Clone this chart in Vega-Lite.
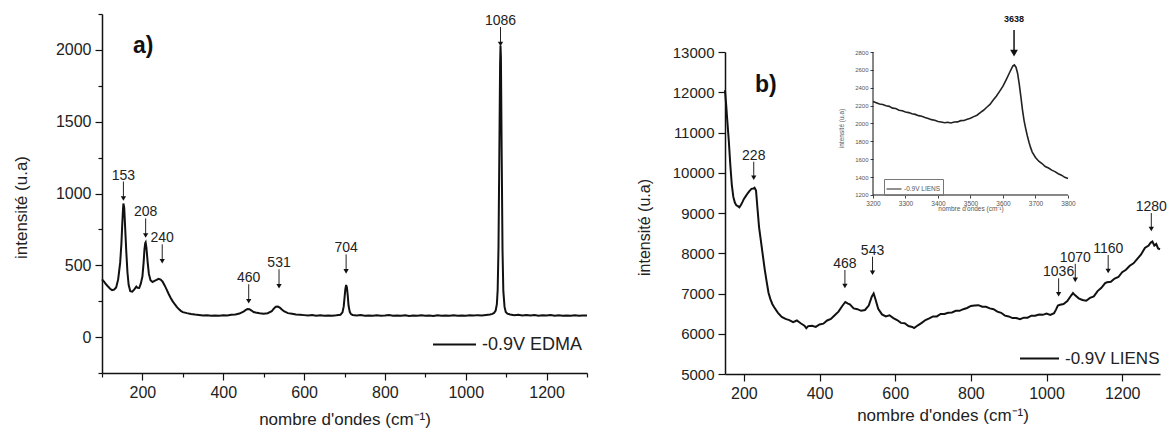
{
  "$schema": "https://vega.github.io/schema/vega-lite/v6.json",
  "padding": {"left": 12, "top": 6, "right": 5, "bottom": 5},
  "background": "white",
  "config": {
    "view": {"stroke": null},
    "font": "Liberation Sans",
    "axis": {"grid": false, "domainColor": "#111", "tickColor": "#111", "labelColor": "#222", "titleColor": "#222", "domainWidth": 1.5, "tickWidth": 1.2, "labelFont": "Liberation Sans", "titleFont": "Liberation Sans", "titleFontWeight": "normal", "format": "d", "labelOverlap": false, "labelFlush": false},
    "text": {"font": "Liberation Sans"}
  },
  "datasets": {
    "a": [
      {"wn":100,"i":402},{"wn":105,"i":386},{"wn":110,"i":368},{"wn":115,"i":352},{"wn":120,"i":337},{"wn":125,"i":327},{"wn":130,"i":331},{"wn":135,"i":346},{"wn":140,"i":402},{"wn":145,"i":520},{"wn":148,"i":650},{"wn":150,"i":780},{"wn":152,"i":890},{"wn":153,"i":930},{"wn":155,"i":900},{"wn":157,"i":780},{"wn":160,"i":600},{"wn":163,"i":450},{"wn":166,"i":362},{"wn":170,"i":320},{"wn":175,"i":316},{"wn":180,"i":332},{"wn":185,"i":352},{"wn":188,"i":343},{"wn":192,"i":342},{"wn":196,"i":372},{"wn":200,"i":422},{"wn":203,"i":520},{"wn":205,"i":610},{"wn":207,"i":655},{"wn":208,"i":660},{"wn":210,"i":620},{"wn":213,"i":520},{"wn":216,"i":440},{"wn":220,"i":396},{"wn":225,"i":384},{"wn":230,"i":391},{"wn":235,"i":398},{"wn":240,"i":406},{"wn":245,"i":401},{"wn":250,"i":386},{"wn":255,"i":360},{"wn":260,"i":331},{"wn":265,"i":300},{"wn":270,"i":272},{"wn":275,"i":249},{"wn":280,"i":229},{"wn":285,"i":210},{"wn":290,"i":195},{"wn":295,"i":183},{"wn":300,"i":174},{"wn":310,"i":167},{"wn":320,"i":161},{"wn":330,"i":157},{"wn":340,"i":154},{"wn":350,"i":150},{"wn":360,"i":152},{"wn":370,"i":148},{"wn":380,"i":151},{"wn":390,"i":149},{"wn":400,"i":152},{"wn":410,"i":150},{"wn":420,"i":155},{"wn":430,"i":158},{"wn":440,"i":164},{"wn":450,"i":177},{"wn":455,"i":188},{"wn":460,"i":195},{"wn":465,"i":194},{"wn":470,"i":185},{"wn":475,"i":175},{"wn":480,"i":171},{"wn":490,"i":166},{"wn":500,"i":163},{"wn":510,"i":166},{"wn":520,"i":180},{"wn":525,"i":198},{"wn":530,"i":212},{"wn":535,"i":213},{"wn":540,"i":205},{"wn":545,"i":192},{"wn":550,"i":180},{"wn":560,"i":167},{"wn":570,"i":163},{"wn":580,"i":157},{"wn":590,"i":156},{"wn":600,"i":153},{"wn":610,"i":150},{"wn":620,"i":153},{"wn":630,"i":149},{"wn":640,"i":152},{"wn":650,"i":148},{"wn":660,"i":151},{"wn":670,"i":149},{"wn":680,"i":152},{"wn":690,"i":156},{"wn":695,"i":172},{"wn":698,"i":212},{"wn":700,"i":272},{"wn":702,"i":332},{"wn":704,"i":363},{"wn":706,"i":345},{"wn":708,"i":290},{"wn":710,"i":220},{"wn":713,"i":176},{"wn":716,"i":160},{"wn":720,"i":154},{"wn":730,"i":150},{"wn":740,"i":153},{"wn":750,"i":148},{"wn":760,"i":151},{"wn":770,"i":149},{"wn":780,"i":152},{"wn":790,"i":148},{"wn":800,"i":150},{"wn":810,"i":153},{"wn":820,"i":148},{"wn":830,"i":151},{"wn":840,"i":149},{"wn":850,"i":152},{"wn":860,"i":147},{"wn":870,"i":151},{"wn":880,"i":149},{"wn":890,"i":152},{"wn":900,"i":148},{"wn":910,"i":151},{"wn":920,"i":147},{"wn":930,"i":152},{"wn":940,"i":149},{"wn":950,"i":151},{"wn":960,"i":148},{"wn":970,"i":152},{"wn":980,"i":149},{"wn":990,"i":151},{"wn":1000,"i":148},{"wn":1010,"i":152},{"wn":1020,"i":150},{"wn":1030,"i":153},{"wn":1040,"i":151},{"wn":1050,"i":154},{"wn":1060,"i":157},{"wn":1066,"i":162},{"wn":1070,"i":168},{"wn":1074,"i":185},{"wn":1077,"i":230},{"wn":1079,"i":330},{"wn":1081,"i":620},{"wn":1083,"i":1250},{"wn":1085,"i":1900},{"wn":1086,"i":2030},{"wn":1087,"i":1950},{"wn":1089,"i":1250},{"wn":1091,"i":600},{"wn":1093,"i":320},{"wn":1096,"i":210},{"wn":1099,"i":175},{"wn":1103,"i":163},{"wn":1110,"i":157},{"wn":1120,"i":153},{"wn":1130,"i":156},{"wn":1140,"i":151},{"wn":1150,"i":154},{"wn":1160,"i":150},{"wn":1170,"i":153},{"wn":1180,"i":149},{"wn":1190,"i":152},{"wn":1200,"i":150},{"wn":1210,"i":153},{"wn":1220,"i":148},{"wn":1230,"i":152},{"wn":1240,"i":149},{"wn":1250,"i":151},{"wn":1260,"i":148},{"wn":1270,"i":152},{"wn":1280,"i":149},{"wn":1290,"i":151},{"wn":1300,"i":150}
    ],
    "b": [
      {"wn":150,"i":12050},{"wn":153,"i":11700},{"wn":156,"i":11300},{"wn":160,"i":10800},{"wn":164,"i":10200},{"wn":168,"i":9700},{"wn":172,"i":9400},{"wn":176,"i":9260},{"wn":180,"i":9190},{"wn":184,"i":9170},{"wn":188,"i":9140},{"wn":192,"i":9200},{"wn":196,"i":9270},{"wn":200,"i":9350},{"wn":205,"i":9420},{"wn":210,"i":9490},{"wn":215,"i":9550},{"wn":220,"i":9600},{"wn":225,"i":9610},{"wn":228,"i":9630},{"wn":232,"i":9560},{"wn":236,"i":9100},{"wn":240,"i":8650},{"wn":245,"i":8300},{"wn":250,"i":7950},{"wn":255,"i":7600},{"wn":260,"i":7300},{"wn":265,"i":7020},{"wn":270,"i":6860},{"wn":275,"i":6740},{"wn":280,"i":6660},{"wn":290,"i":6520},{"wn":300,"i":6420},{"wn":310,"i":6370},{"wn":320,"i":6340},{"wn":330,"i":6290},{"wn":340,"i":6330},{"wn":350,"i":6260},{"wn":360,"i":6200},{"wn":365,"i":6140},{"wn":370,"i":6190},{"wn":380,"i":6200},{"wn":390,"i":6170},{"wn":400,"i":6230},{"wn":410,"i":6250},{"wn":420,"i":6330},{"wn":430,"i":6370},{"wn":440,"i":6460},{"wn":450,"i":6550},{"wn":460,"i":6690},{"wn":468,"i":6790},{"wn":475,"i":6750},{"wn":480,"i":6730},{"wn":490,"i":6630},{"wn":500,"i":6610},{"wn":510,"i":6570},{"wn":520,"i":6590},{"wn":530,"i":6700},{"wn":538,"i":6920},{"wn":543,"i":7000},{"wn":548,"i":6850},{"wn":555,"i":6620},{"wn":565,"i":6480},{"wn":575,"i":6430},{"wn":585,"i":6460},{"wn":595,"i":6390},{"wn":605,"i":6340},{"wn":615,"i":6270},{"wn":625,"i":6260},{"wn":635,"i":6190},{"wn":645,"i":6170},{"wn":650,"i":6140},{"wn":660,"i":6210},{"wn":670,"i":6270},{"wn":680,"i":6340},{"wn":690,"i":6380},{"wn":700,"i":6430},{"wn":710,"i":6430},{"wn":720,"i":6490},{"wn":730,"i":6490},{"wn":740,"i":6520},{"wn":750,"i":6530},{"wn":760,"i":6570},{"wn":770,"i":6570},{"wn":780,"i":6610},{"wn":790,"i":6640},{"wn":800,"i":6690},{"wn":810,"i":6700},{"wn":820,"i":6710},{"wn":830,"i":6670},{"wn":840,"i":6670},{"wn":850,"i":6630},{"wn":860,"i":6610},{"wn":870,"i":6550},{"wn":880,"i":6520},{"wn":890,"i":6450},{"wn":900,"i":6430},{"wn":910,"i":6390},{"wn":920,"i":6390},{"wn":930,"i":6360},{"wn":940,"i":6400},{"wn":950,"i":6400},{"wn":960,"i":6450},{"wn":970,"i":6450},{"wn":980,"i":6480},{"wn":990,"i":6470},{"wn":1000,"i":6500},{"wn":1010,"i":6470},{"wn":1020,"i":6510},{"wn":1025,"i":6600},{"wn":1030,"i":6700},{"wn":1036,"i":6720},{"wn":1045,"i":6740},{"wn":1055,"i":6810},{"wn":1065,"i":6950},{"wn":1070,"i":7010},{"wn":1075,"i":6960},{"wn":1085,"i":6880},{"wn":1095,"i":6840},{"wn":1105,"i":6820},{"wn":1115,"i":6890},{"wn":1125,"i":6930},{"wn":1135,"i":7060},{"wn":1145,"i":7140},{"wn":1155,"i":7260},{"wn":1160,"i":7280},{"wn":1170,"i":7290},{"wn":1180,"i":7370},{"wn":1190,"i":7410},{"wn":1200,"i":7530},{"wn":1210,"i":7590},{"wn":1220,"i":7690},{"wn":1230,"i":7750},{"wn":1240,"i":7860},{"wn":1250,"i":7970},{"wn":1260,"i":8130},{"wn":1270,"i":8190},{"wn":1275,"i":8260},{"wn":1280,"i":8290},{"wn":1285,"i":8190},{"wn":1290,"i":8230},{"wn":1295,"i":8120},{"wn":1300,"i":8100}
    ],
    "c": [
      {"wn":3200,"i":2245},{"wn":3210,"i":2232},{"wn":3220,"i":2218},{"wn":3230,"i":2212},{"wn":3240,"i":2198},{"wn":3250,"i":2192},{"wn":3260,"i":2172},{"wn":3270,"i":2167},{"wn":3280,"i":2148},{"wn":3290,"i":2142},{"wn":3300,"i":2128},{"wn":3310,"i":2122},{"wn":3320,"i":2108},{"wn":3330,"i":2102},{"wn":3340,"i":2088},{"wn":3350,"i":2082},{"wn":3360,"i":2068},{"wn":3370,"i":2057},{"wn":3380,"i":2043},{"wn":3390,"i":2037},{"wn":3400,"i":2023},{"wn":3410,"i":2017},{"wn":3420,"i":2008},{"wn":3430,"i":2014},{"wn":3440,"i":2006},{"wn":3450,"i":2017},{"wn":3460,"i":2018},{"wn":3470,"i":2032},{"wn":3480,"i":2033},{"wn":3490,"i":2047},{"wn":3500,"i":2058},{"wn":3510,"i":2077},{"wn":3520,"i":2093},{"wn":3530,"i":2122},{"wn":3540,"i":2148},{"wn":3550,"i":2182},{"wn":3560,"i":2213},{"wn":3570,"i":2262},{"wn":3580,"i":2308},{"wn":3590,"i":2362},{"wn":3600,"i":2418},{"wn":3610,"i":2492},{"wn":3620,"i":2568},{"wn":3630,"i":2642},{"wn":3635,"i":2655},{"wn":3640,"i":2630},{"wn":3645,"i":2560},{"wn":3650,"i":2440},{"wn":3655,"i":2300},{"wn":3660,"i":2150},{"wn":3665,"i":2030},{"wn":3670,"i":1940},{"wn":3675,"i":1860},{"wn":3680,"i":1790},{"wn":3685,"i":1730},{"wn":3690,"i":1680},{"wn":3700,"i":1620},{"wn":3710,"i":1578},{"wn":3720,"i":1552},{"wn":3730,"i":1518},{"wn":3740,"i":1502},{"wn":3750,"i":1478},{"wn":3760,"i":1462},{"wn":3770,"i":1438},{"wn":3780,"i":1422},{"wn":3790,"i":1398},{"wn":3800,"i":1385}
    ],
    "annA": [
      {"wn":153,"v":937,"label":"153"},{"wn":208,"v":680,"label":"208"},{"wn":249,"v":500,"label":"240"},{"wn":463,"v":222,"label":"460"},{"wn":538,"v":326,"label":"531"},{"wn":704,"v":430,"label":"704"},{"wn":1086,"v":2013,"label":"1086"}
    ],
    "annB": [
      {"wn":226,"v":9776,"label":"228"},{"wn":467,"v":7087,"label":"468"},{"wn":540,"v":7417,"label":"543"},{"wn":1032,"v":6880,"label":"1036"},{"wn":1076,"v":7240,"label":"1070"},{"wn":1163,"v":7459,"label":"1160"},{"wn":1277,"v":8502,"label":"1280"}
    ],
    "annC": [
      {"wn":3634,"v":2732,"label":"3638"}
    ],
    "frameC": [
      {"wn":3200,"wn2":3800,"i":1200,"i2":2800}
    ]
  },
  "bounds": "flush",
  "spacing": 138,
  "resolve": {"scale": {"color": "independent"}, "legend": {"color": "independent"}},
  "hconcat": [
    {
      "width": 485,
      "height": 359,
      "resolve": {"axis": {"y": "independent"}},
      "layer": [
        {
          "data": {"name": "a"},
          "mark": {"type": "line", "strokeWidth": 2},
          "encoding": {
            "x": {"field": "wn", "type": "quantitative", "scale": {"domain": [100, 1300], "nice": false, "zero": false},
              "axis": {"values": [100,200,300,400,500,600,700,800,900,1000,1100,1200,1300], "labelExpr": "datum.value % 200 == 0 ? datum.label : ''", "tickSize": {"condition": {"test": "datum.value % 200 == 0", "value": 7}, "value": 4}, "labelFontSize": 16, "labelPadding": 4, "title": "nombre d'ondes (cm⁻¹)", "titleFontSize": 17, "titleY": 46, "titleBaseline": "middle"}},
            "y": {"field": "i", "type": "quantitative", "scale": {"domain": [-250, 2250], "nice": false, "zero": false},
              "axis": {"orient": "left", "values": [-250,0,250,500,750,1000,1250,1500,1750,2000,2250], "labelExpr": "datum.value % 500 == 0 ? datum.label : ''", "tickSize": {"condition": {"test": "datum.value % 500 == 0", "value": 7}, "value": 4}, "labelFontSize": 16, "labelPadding": 4, "title": "intensité (u.a)", "titleFontSize": 17, "titleX": -81, "titleY": 193, "titleBaseline": "middle", "titleAngle": 270}},
            "color": {"datum": "-0.9V EDMA", "type": "nominal", "scale": {"range": ["#111"]},
              "legend": {"orient": "none", "legendX": 330, "legendY": 308, "title": null, "symbolType": "stroke", "symbolSize": 1849, "symbolStrokeWidth": 2, "labelFontSize": 18, "labelOffset": 5, "padding": 0, "labelColor": "#222", "labelFont": "Liberation Sans"}}
          }
        },
        {
          "data": {"name": "annA"},
          "mark": {"type": "rule", "color": "#222", "strokeWidth": 1, "yOffset": -21, "y2Offset": -5},
          "encoding": {"x": {"field": "wn", "type": "quantitative"}, "y": {"field": "v", "type": "quantitative", "axis": null}, "y2": {"field": "v"}}
        },
        {
          "data": {"name": "annA"},
          "mark": {"type": "point", "shape": "triangle-down", "filled": true, "color": "#111", "size": 28, "opacity": 1, "yOffset": -4},
          "encoding": {"x": {"field": "wn", "type": "quantitative"}, "y": {"field": "v", "type": "quantitative", "axis": null}}
        },
        {
          "data": {"name": "annA"},
          "mark": {"type": "text", "fontSize": 14, "color": "#222", "baseline": "middle", "yOffset": -27},
          "encoding": {"x": {"field": "wn", "type": "quantitative"}, "y": {"field": "v", "type": "quantitative", "axis": null}, "text": {"field": "label"}}
        },
        {
          "data": {"values": [{"wn": 202, "v": 2024, "t": "a)"}]},
          "mark": {"type": "text", "fontSize": 23, "fontWeight": "bold", "color": "#111", "baseline": "middle"},
          "encoding": {"x": {"field": "wn", "type": "quantitative"}, "y": {"field": "v", "type": "quantitative", "axis": null}, "text": {"field": "t"}}
        }
      ]
    },
    {
      "bounds": "flush",
      "spacing": 37,
      "resolve": {"scale": {"color": "independent"}, "legend": {"color": "independent"}},
      "vconcat": [
        {"data": {"values": []}, "mark": "point", "width": 10, "height": 1},
        {
          "width": 435,
          "height": 322,
          "resolve": {"scale": {"x": "independent", "y": "independent", "color": "independent"}, "axis": {"x": "independent", "y": "independent"}, "legend": {"color": "independent"}},
          "layer": [
            {
              "layer": [
                {
                  "data": {"name": "b"},
                  "mark": {"type": "line", "strokeWidth": 2},
                  "encoding": {
                    "x": {"field": "wn", "type": "quantitative", "scale": {"domain": [150, 1300], "nice": false, "zero": false},
                      "axis": {"orient": "bottom", "values": [200,300,400,500,600,700,800,900,1000,1100,1200,1300], "labelExpr": "datum.value % 200 == 0 ? datum.label : ''", "tickSize": {"condition": {"test": "datum.value % 200 == 0", "value": 7}, "value": 4}, "labelFontSize": 16, "labelPadding": 4, "title": "nombre d'ondes (cm⁻¹)", "titleFontSize": 17, "titleY": 41, "titleBaseline": "middle"}},
                    "y": {"field": "i", "type": "quantitative", "scale": {"domain": [5000, 13000], "nice": false, "zero": false},
                      "axis": {"orient": "left", "values": [5000,5500,6000,6500,7000,7500,8000,8500,9000,9500,10000,10500,11000,11500,12000,12500,13000], "labelExpr": "datum.value % 1000 == 0 ? datum.label : ''", "tickSize": {"condition": {"test": "datum.value % 1000 == 0", "value": 7}, "value": 4}, "labelFontSize": 15, "labelPadding": 4, "title": "intensité (u.a)", "titleFontSize": 16, "titleX": -81, "titleY": 175, "titleBaseline": "middle", "titleAngle": 270}},
                    "color": {"datum": "-0.9V LIENS", "type": "nominal", "scale": {"range": ["#111"]},
                      "legend": {"orient": "none", "legendX": 294, "legendY": 286, "title": null, "symbolType": "stroke", "symbolSize": 1521, "symbolStrokeWidth": 2, "labelFontSize": 17, "labelOffset": 5, "padding": 0, "labelColor": "#222", "labelFont": "Liberation Sans"}}
                  }
                },
                {
                  "data": {"name": "annB"},
                  "mark": {"type": "rule", "color": "#222", "strokeWidth": 1, "yOffset": -20, "y2Offset": -5},
                  "encoding": {"x": {"field": "wn", "type": "quantitative"}, "y": {"field": "v", "type": "quantitative"}, "y2": {"field": "v"}}
                },
                {
                  "data": {"name": "annB"},
                  "mark": {"type": "point", "shape": "triangle-down", "filled": true, "color": "#111", "size": 28, "opacity": 1, "yOffset": -4},
                  "encoding": {"x": {"field": "wn", "type": "quantitative"}, "y": {"field": "v", "type": "quantitative"}}
                },
                {
                  "data": {"name": "annB"},
                  "mark": {"type": "text", "fontSize": 14, "color": "#222", "baseline": "middle", "yOffset": -26},
                  "encoding": {"x": {"field": "wn", "type": "quantitative"}, "y": {"field": "v", "type": "quantitative"}, "text": {"field": "label"}}
                },
                {
                  "data": {"values": [{"wn": 258, "v": 12179, "t": "b)"}]},
                  "mark": {"type": "text", "fontSize": 23, "fontWeight": "bold", "color": "#111", "baseline": "middle"},
                  "encoding": {"x": {"field": "wn", "type": "quantitative"}, "y": {"field": "v", "type": "quantitative"}, "text": {"field": "t"}}
                }
              ]
            },
            {
              "layer": [
                {
                  "data": {"name": "c"},
                  "mark": {"type": "line", "strokeWidth": 1.6},
                  "encoding": {
                    "x": {"field": "wn", "type": "quantitative", "scale": {"domain": [2744.6, 4083.1], "nice": false, "zero": false},
                      "axis": {"orient": "bottom", "offset": -179, "domain": false, "values": [3200,3250,3300,3350,3400,3450,3500,3550,3600,3650,3700,3750,3800], "labelExpr": "datum.value % 100 == 0 ? datum.label : ''", "tickSize": {"condition": {"test": "datum.value % 100 == 0", "value": 3}, "value": 2}, "tickWidth": 0.8, "labelFontSize": 6.5, "labelPadding": 2, "labelColor": "#555", "title": "nombre d'ondes (cm⁻¹)", "titleFontSize": 6.5, "titleColor": "#555", "titleX": 245.5, "titleY": 13, "titleBaseline": "middle"}},
                    "y": {"field": "i", "type": "quantitative", "scale": {"domain": [-802.8, 2800], "nice": false, "zero": false},
                      "axis": {"orient": "left", "offset": -148, "domain": false, "values": [1200,1300,1400,1500,1600,1700,1800,1900,2000,2100,2200,2300,2400,2500,2600,2700,2800], "labelExpr": "datum.value % 200 == 0 ? datum.label : ''", "tickSize": {"condition": {"test": "datum.value % 200 == 0", "value": 3}, "value": 2}, "tickWidth": 0.8, "labelFontSize": 6, "labelPadding": 2, "labelColor": "#555", "title": "intensité (u.a)", "titleFontSize": 6.5, "titleColor": "#555", "titleX": -32, "titleY": 76, "titleBaseline": "middle", "titleAngle": 270}},
                    "color": {"datum": "-0.9V LIENS", "type": "nominal", "scale": {"range": ["#222"]},
                      "legend": {"orient": "none", "legendX": 159, "legendY": 127, "title": null, "symbolType": "stroke", "symbolSize": 225, "symbolStrokeWidth": 1, "labelFontSize": 6.5, "labelOffset": 2, "padding": 2, "strokeColor": "#777", "labelColor": "#555", "labelFont": "Liberation Sans"}}
                  }
                },
                {
                  "data": {"name": "frameC"},
                  "mark": {"type": "rule", "color": "#111", "strokeWidth": 1},
                  "encoding": {"x": {"field": "wn", "type": "quantitative"}, "y": {"field": "i", "type": "quantitative"}, "y2": {"field": "i2"}}
                },
                {
                  "data": {"name": "frameC"},
                  "mark": {"type": "rule", "color": "#111", "strokeWidth": 1},
                  "encoding": {"x": {"field": "wn", "type": "quantitative"}, "x2": {"field": "wn2"}, "y": {"field": "i", "type": "quantitative"}}
                },
                {
                  "data": {"name": "annC"},
                  "mark": {"type": "rule", "color": "#111", "strokeWidth": 1.5, "yOffset": -28, "y2Offset": -6},
                  "encoding": {"x": {"field": "wn", "type": "quantitative"}, "y": {"field": "v", "type": "quantitative"}, "y2": {"field": "v"}}
                },
                {
                  "data": {"name": "annC"},
                  "mark": {"type": "point", "shape": "triangle-down", "filled": true, "color": "#111", "size": 60, "opacity": 1, "yOffset": -5},
                  "encoding": {"x": {"field": "wn", "type": "quantitative"}, "y": {"field": "v", "type": "quantitative"}}
                },
                {
                  "data": {"name": "annC"},
                  "mark": {"type": "text", "fontSize": 9, "fontWeight": "bold", "color": "#111", "baseline": "middle", "yOffset": -39},
                  "encoding": {"x": {"field": "wn", "type": "quantitative"}, "y": {"field": "v", "type": "quantitative"}, "text": {"field": "label"}}
                }
              ]
            }
          ]
        }
      ]
    }
  ]
}
